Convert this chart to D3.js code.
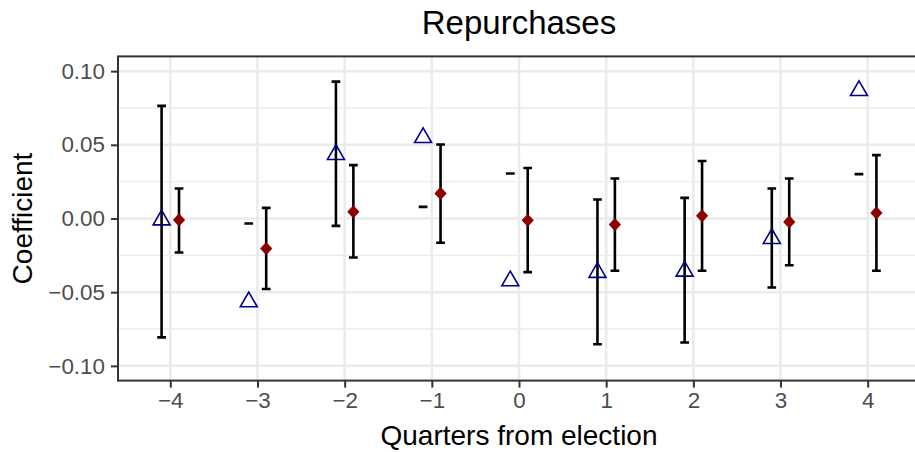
<!DOCTYPE html>
<html>
<head>
<meta charset="utf-8">
<script src="https://cdn.jsdelivr.net/npm/d3@7"></script>
<style>
  html, body { margin: 0; padding: 0; background: #fff; }
  svg { display: block; font-family: "Liberation Sans", Arial, Helvetica, sans-serif; }
</style>
</head>
<body>
<svg id="chart" width="915" height="452"></svg>
<script>
// Event-study coefficients by quarter relative to the election
const quarters = [-4, -3, -2, -1, 0, 1, 2, 3, 4];

// Series A (open triangles) with its interval bounds
const triEst  = [-0.0010, -0.0566, 0.0434, 0.0549, -0.0423, -0.0366, -0.0358, -0.0136, 0.0868];
const triLow  = [-0.0807, -0.0034, -0.0050, 0.0079, 0.0305, -0.0853, -0.0841, -0.0468, 0.0301];
const triHigh = [0.0764, -0.0034, 0.0929, 0.0079, 0.0305, 0.0129, 0.0140, 0.0204, 0.0301];

// Series B (filled diamonds) with its interval bounds
const redEst  = [-0.0010, -0.0204, 0.0045, 0.0170, -0.0012, -0.0041, 0.0018, -0.0023, 0.0038];
const redLow  = [-0.0231, -0.0478, -0.0265, -0.0165, -0.0364, -0.0355, -0.0355, -0.0317, -0.0355];
const redHigh = [0.0204, 0.0072, 0.0362, 0.0502, 0.0343, 0.0271, 0.0390, 0.0271, 0.0430];

const yTicks = [-0.10, -0.05, 0.00, 0.05, 0.10];
const yMinor = [-0.075, -0.025, 0.025, 0.075];

const titleText = "Repurchases";
const xTitle = "Quarters from election";
const yTitle = "Coefficient";

const panel = { left: 118, right: 920, top: 56.4, bottom: 380.6 };
const dodge = 0.1;
const capHalf = 0.05;

const svg = d3.select("#chart");

const x = d3.scaleLinear().domain([-4.6, 4.6]).range([panel.left, panel.right]);
const y = d3.scaleLinear().domain([-0.11, 0.11]).range([panel.bottom, panel.top]);

const fmtMinus = s => s.replace("-", "\u2212");

// Panel grid
const grid = svg.append("g");
grid.selectAll("line.minor").data(yMinor).join("line")
  .attr("x1", panel.left).attr("x2", panel.right)
  .attr("y1", d => y(d)).attr("y2", d => y(d))
  .attr("stroke", "#EBEBEB").attr("stroke-width", 1.3);
grid.selectAll("line.majy").data(yTicks).join("line")
  .attr("x1", panel.left).attr("x2", panel.right)
  .attr("y1", d => y(d)).attr("y2", d => y(d))
  .attr("stroke", "#EBEBEB").attr("stroke-width", 2.5);
grid.selectAll("line.majx").data(quarters).join("line")
  .attr("x1", d => x(d)).attr("x2", d => x(d))
  .attr("y1", panel.top).attr("y2", panel.bottom)
  .attr("stroke", "#EBEBEB").attr("stroke-width", 2.5);

// Combine per-quarter rows for both series
const rowsA = quarters.map((q, i) => ({ q, pos: q - dodge, est: triEst[i], lo: triLow[i], hi: triHigh[i] }));
const rowsB = quarters.map((q, i) => ({ q, pos: q + dodge, est: redEst[i], lo: redLow[i], hi: redHigh[i] }));
const allRows = rowsA.concat(rowsB);

// Error bars
const eb = svg.append("g").attr("stroke", "#000").attr("stroke-width", 2.6).attr("fill", "none");
eb.selectAll("path").data(allRows).join("path")
  .attr("d", d => {
    const xl = x(d.pos - capHalf), xr = x(d.pos + capHalf), xc = x(d.pos);
    const yl = y(d.lo), yh = y(d.hi);
    return `M${xl},${yh}H${xr}M${xc},${yh}V${yl}M${xl},${yl}H${xr}`;
  });

// Open triangles
const triPath = (() => {
  const s = 6.3, r = 1.5551 * s, hb = 1.3468 * s, b = 0.7776 * s;
  return `M0,${-r}L${hb},${b}L${-hb},${b}Z`;
})();
svg.append("g").selectAll("path").data(rowsA).join("path")
  .attr("transform", d => `translate(${x(d.pos)},${y(d.est)})`)
  .attr("d", triPath)
  .attr("fill", "none").attr("stroke", "#00008B").attr("stroke-width", 1.6);

// Filled diamonds
svg.append("g").selectAll("path").data(rowsB).join("path")
  .attr("transform", d => `translate(${x(d.pos)},${y(d.est)})`)
  .attr("d", "M0,-6.6L6.1,0L0,6.6L-6.1,0Z")
  .attr("fill", "#8B0000");

// Panel border
svg.append("rect")
  .attr("x", panel.left).attr("y", panel.top)
  .attr("width", panel.right - panel.left).attr("height", panel.bottom - panel.top)
  .attr("fill", "none").attr("stroke", "#333333").attr("stroke-width", 2);

// Axes
const xAxis = d3.axisBottom(x).tickValues(quarters).tickSize(7).tickPadding(5)
  .tickFormat(d => fmtMinus(d3.format("d")(d)));
const gx = svg.append("g").attr("transform", `translate(0,${panel.bottom})`).call(xAxis);
gx.select(".domain").remove();
gx.selectAll(".tick line").attr("stroke", "#333333").attr("stroke-width", 2);
gx.selectAll(".tick text").attr("fill", "#4D4D4D").attr("font-size", 22.4)
  .attr("font-family", "Liberation Sans, Arial, sans-serif");

const yAxis = d3.axisLeft(y).tickValues(yTicks).tickSize(7).tickPadding(6)
  .tickFormat(d => fmtMinus(d3.format(".2f")(d)));
const gy = svg.append("g").attr("transform", `translate(${panel.left},0)`).call(yAxis);
gy.select(".domain").remove();
gy.selectAll(".tick line").attr("stroke", "#333333").attr("stroke-width", 2);
gy.selectAll(".tick text").attr("fill", "#4D4D4D").attr("font-size", 22.4)
  .attr("font-family", "Liberation Sans, Arial, sans-serif");

// Titles
svg.append("text")
  .attr("x", (panel.left + panel.right) / 2).attr("y", 34)
  .attr("text-anchor", "middle").attr("font-size", 33).attr("fill", "#000")
  .text(titleText);

svg.append("text")
  .attr("x", (panel.left + panel.right) / 2).attr("y", 445)
  .attr("text-anchor", "middle").attr("font-size", 28).attr("fill", "#000")
  .text(xTitle);

svg.append("text")
  .attr("transform", `translate(32,${(panel.top + panel.bottom) / 2}) rotate(-90)`)
  .attr("text-anchor", "middle").attr("font-size", 28).attr("fill", "#000")
  .text(yTitle);
</script>
</body>
</html>
